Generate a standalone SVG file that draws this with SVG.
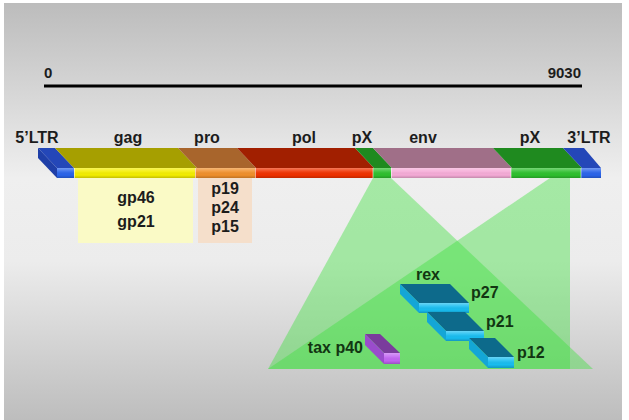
<svg xmlns="http://www.w3.org/2000/svg" width="629" height="420" viewBox="0 0 629 420">
<defs>
<linearGradient id="bg" x1="0" y1="0" x2="0" y2="1">
<stop offset="0" stop-color="#bcbcbc"/>
<stop offset="0.42" stop-color="#efefef"/>
<stop offset="0.62" stop-color="#ececec"/>
<stop offset="1" stop-color="#bdbdbd"/>
</linearGradient>
<linearGradient id="shine" x1="0" y1="0" x2="0" y2="1">
<stop offset="0" stop-color="#ffffff" stop-opacity="0.35"/>
<stop offset="0.35" stop-color="#ffffff" stop-opacity="0.1"/>
<stop offset="0.7" stop-color="#000000" stop-opacity="0"/>
<stop offset="1" stop-color="#000000" stop-opacity="0.2"/>
</linearGradient>
<style>
text{font-family:"Liberation Sans",Arial,sans-serif;font-weight:bold;font-size:16px;fill:#1c1c1c}
.num{font-size:15px}
.g{fill:#123612}
.mid{text-anchor:middle}
.proj{fill:#3fe03f;fill-opacity:0.42}
.sep{stroke:#ffffff;stroke-opacity:0.55;stroke-width:1}
.tealTop{fill:#0d6a8b}
.tealSide{fill:#14a6d6}
.tealFront{fill:#18bdf0}
.purTop{fill:#7a3c9c}
.purSide{fill:#9a4ccc}
.purFront{fill:#c264f2}
</style>
</defs>

<rect x="0" y="0" width="629" height="420" fill="#ffffff"/>
<rect x="4" y="3" width="618" height="417" fill="url(#bg)"/>

<g id="scale">
<line x1="44" y1="86" x2="582" y2="86" stroke="#000" stroke-width="3"/>
<text class="num" x="44" y="78">0</text>
<text class="num" x="581" y="78" text-anchor="end">9030</text>
</g>

<g id="connectors">
<polygon class="proj" points="373,178 391,178 593,369 268,369"/>
<polygon class="proj" points="550,178 570,178 570,369 268,369"/>
</g>

<g id="gag-box">
<rect x="78" y="178" width="115" height="65" fill="#fafac6"/>
<text class="mid" x="136" y="203">gp46</text>
<text class="mid" x="136" y="227">gp21</text>
</g>
<g id="pro-box">
<rect x="198" y="178" width="54" height="65" fill="#f5dfcb"/>
<text class="mid" x="225" y="194">p19</text>
<text class="mid" x="225" y="213">p24</text>
<text class="mid" x="225" y="232">p15</text>
</g>

<g id="ltr5">
<polygon points="38,148 55,148 74,168 57,168" fill="#2447b8"/>
<polygon points="38,148 57,168 57,178 38,158" fill="#1f3fa8"/>
<rect x="57" y="168" width="17" height="10" fill="#2a64ea"/>
<text class="mid" x="37" y="143">5’LTR</text>
</g>
<g id="gag">
<polygon points="55,148 178,148 197,168 74,168" fill="#a69f00"/>
<rect x="74" y="168" width="121" height="10" fill="#f4ee00"/>
<text class="mid" x="128" y="143">gag</text>
</g>
<g id="pro">
<polygon points="178,148 237,148 256,168 197,168" fill="#a8652c"/>
<rect x="195" y="168" width="60" height="10" fill="#f0902c"/>
<text class="mid" x="207" y="143">pro</text>
</g>
<g id="pol">
<polygon points="237,148 355,148 374,168 256,168" fill="#a11f00"/>
<rect x="255" y="168" width="118" height="10" fill="#f03200"/>
<text class="mid" x="304" y="143">pol</text>
</g>
<g id="px1">
<polygon points="355,148 373,148 392,168 374,168" fill="#1f8a1f"/>
<rect x="373" y="168" width="18" height="10" fill="#2ec02e"/>
<text class="mid" x="362" y="143">pX</text>
</g>
<g id="env">
<polygon points="373,148 493,148 512,168 392,168" fill="#a06f88"/>
<rect x="391" y="168" width="120" height="10" fill="#f5abd7"/>
<text class="mid" x="423" y="143">env</text>
</g>
<g id="px2">
<polygon points="493,148 563,148 582,168 512,168" fill="#1f8a1f"/>
<rect x="511" y="168" width="70" height="10" fill="#2ec02e"/>
<text class="mid" x="530" y="143">pX</text>
</g>
<g id="ltr3">
<polygon points="563,148 584,148 601,168 582,168" fill="#2447b8"/>
<rect x="581" y="168" width="20" height="10" fill="#2a64ea"/>
<text class="mid" x="589" y="143">3’LTR</text>
</g>
<rect x="57" y="168" width="544" height="10" fill="url(#shine)"/>
<g id="separators">
<line class="sep" x1="74.5" y1="168" x2="74.5" y2="178"/>
<line class="sep" x1="195.5" y1="168" x2="195.5" y2="178"/>
<line class="sep" x1="255.5" y1="168" x2="255.5" y2="178"/>
<line class="sep" x1="373" y1="168" x2="373" y2="178"/>
<line class="sep" x1="391.5" y1="168" x2="391.5" y2="178"/>
<line class="sep" x1="511" y1="168" x2="511" y2="178"/>
<line class="sep" x1="581" y1="168" x2="581" y2="178"/>
</g>

<g id="rex-p27">
<polygon class="tealTop" points="400,284 450,284 469,303 419,303"/>
<polygon class="tealSide" points="400,284 419,303 419,313 400,294"/>
<rect class="tealFront" x="419" y="303" width="50" height="10"/>
<rect x="419" y="303" width="50" height="10" fill="url(#shine)"/>
<text class="g mid" x="428" y="280">rex</text>
<text class="g" x="471" y="298">p27</text>
</g>
<g id="p21">
<polygon class="tealTop" points="427,312 465,312 484,331 446,331"/>
<polygon class="tealSide" points="427,312 446,331 446,341 427,322"/>
<rect class="tealFront" x="446" y="331" width="38" height="10"/>
<rect x="446" y="331" width="38" height="10" fill="url(#shine)"/>
<text class="g" x="486" y="327">p21</text>
</g>
<g id="p12">
<polygon class="tealTop" points="469,338 495,338 514,357 488,357"/>
<polygon class="tealSide" points="469,338 488,357 488,368 469,349"/>
<rect class="tealFront" x="488" y="357" width="26" height="11"/>
<rect x="488" y="357" width="26" height="11" fill="url(#shine)"/>
<text class="g" x="517" y="358">p12</text>
</g>
<g id="tax-p40">
<polygon class="purTop" points="365,334 380,334 400,353 384,353"/>
<polygon class="purSide" points="365,334 384,353 384,364 365,345"/>
<rect class="purFront" x="384" y="353" width="16" height="11"/>
<rect x="384" y="353" width="16" height="11" fill="url(#shine)"/>
<text class="g" x="363" y="353" text-anchor="end">tax p40</text>
</g>
</svg>
